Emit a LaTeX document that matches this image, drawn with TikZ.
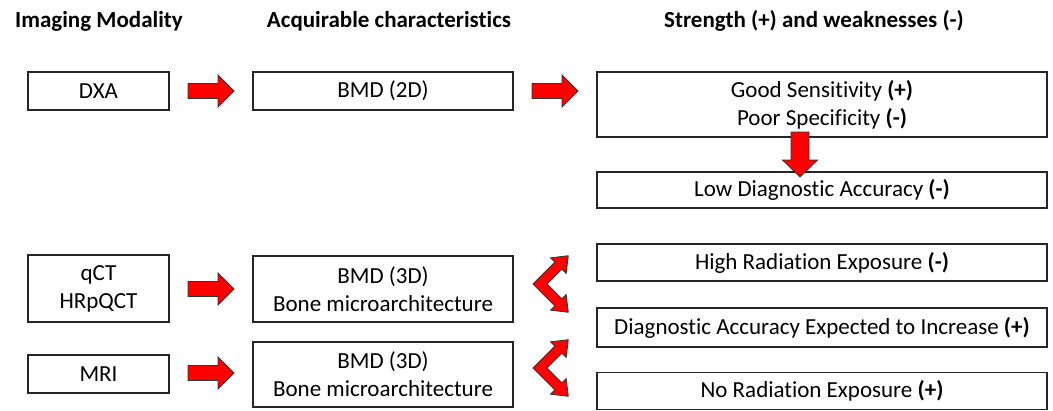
\documentclass[tikz,border=0pt]{standalone}
\usepackage{fontspec}
\setmainfont{Carlito}[Ligatures=NoCommon]

\begin{document}
\begin{tikzpicture}[x=1pt,y=-1pt,
  every node/.style={font=\fontsize{23}{28}\selectfont},
  head/.style={font=\fontsize{23}{28}\selectfont\bfseries},
  box/.style={draw=black!85,line width=1.1pt,align=center,inner sep=0pt},
  modbox/.style={box,minimum width=141},
  acqbox/.style={box,minimum width=260},
  strbox/.style={box,minimum width=450},
  redarrow/.style={draw=black!80,line width=0.8pt,fill=red,line join=miter},
  rarrow/.pic={\draw[redarrow] (0,-7.5)--(30,-7.5)--(30,-16)--(46,0)--(30,16)--(30,7.5)--(0,7.5)--cycle;},
  downarrow/.pic={\draw[redarrow] (-9,0)--(-9,28)--(-17.5,28)--(0,45)--(17.5,28)--(9,28)--(9,0)--cycle;},
  bentarrow/.pic={\draw[redarrow,rotate=45] (-5,-5)--(26,-5)--(26,-11)--(40,0)--(26,11)--(26,5)
    --(5,5)--(5,26)--(11,26)--(0,40)--(-11,26)--(-5,26)--cycle;}]
\useasboundingbox (0,0) rectangle (1053,410);
% headings
\node[head] (hmod) at (99,21) {Imaging Modality};
\node[head] (hacq) at (389,21) {Acquirable characteristics};
\node[head] (hstr) at (814,21) {Strength (+) and weaknesses (-)};
% DXA row
\node[modbox,minimum height=38] (dxa) at (98.5,91) {DXA};
\node[acqbox,minimum height=38] (bmd2) at (383,91) {BMD (2D)};
\node[strbox,minimum height=65] (sens) at (822,104.5) {Good Sensitivity \textbf{(+)}\\Poor Specificity \textbf{(-)}};
\node[strbox,minimum height=36] (lowacc) at (822,190) {Low Diagnostic Accuracy \textbf{(-)}};
% qCT / MRI rows
\node[modbox,minimum height=67] (qct) at (98.5,288.5) {qCT\\HRpQCT};
\node[acqbox,minimum height=66] (bmd3a) at (383,289) {BMD (3D)\\Bone microarchitecture};
\node[modbox,minimum height=38] (mri) at (98.5,374) {MRI};
\node[acqbox,minimum height=65] (bmd3b) at (383,374.5) {BMD (3D)\\Bone microarchitecture};
\node[strbox,minimum height=37] (highrad) at (822,262.5) {High Radiation Exposure \textbf{(-)}};
\node[strbox,minimum height=39] (accinc) at (822,327.5) {Diagnostic Accuracy Expected to Increase \textbf{(+)}};
\node[strbox,minimum height=37] (norad) at (822,391) {No Radiation Exposure \textbf{(+)}};
% arrows
\pic (a1) at (188,91) {rarrow};
\pic (a2) at (532,91) {rarrow};
\pic (a3) at (188,289) {rarrow};
\pic (a4) at (188,373) {rarrow};
\pic (d1) at (800,132) {downarrow};
\pic (b1) at (540,284) {bentarrow};
\pic (b2) at (540,368) {bentarrow};
\end{tikzpicture}
\end{document}
